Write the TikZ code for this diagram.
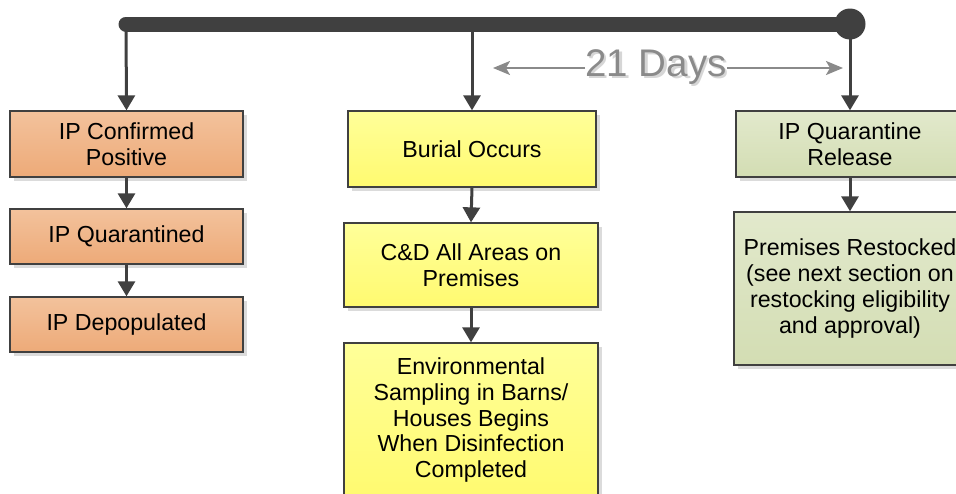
\documentclass[tikz,border=0pt]{standalone}
\usepackage{fontspec}
\setmainfont{Liberation Sans}
\usetikzlibrary{arrows.meta,shadows}

\definecolor{darkline}{HTML}{404040}
\definecolor{daysgray}{HTML}{8A8A8A}
\definecolor{daysshade}{HTML}{D6D6D6}
\definecolor{orangetop}{HTML}{F3C29C}
\definecolor{orangebot}{HTML}{EDAA78}
\definecolor{yellowtop}{HTML}{FFFF99}
\definecolor{yellowbot}{HTML}{FFFA70}
\definecolor{greentop}{HTML}{E2E9CC}
\definecolor{greenbot}{HTML}{D3DDB3}

\tikzset{
  stepbox/.style={draw=darkline, line width=1.3pt, align=center, inner sep=0pt,
    font=\fontsize{23.2}{25.7}\selectfont,
    drop shadow={shadow xshift=4pt, shadow yshift=-4pt, fill=black!14, opacity=1}},
  orangebox/.style={stepbox, top color=orangetop, bottom color=orangebot},
  yellowbox/.style={stepbox, top color=yellowtop, bottom color=yellowbot},
  greenbox/.style={stepbox, top color=greentop, bottom color=greenbot},
  flowarrow/.style={draw=darkline, line width=3pt,
    -{Triangle[length=15pt,width=17pt]}},
  daysarrow/.style={draw=daysgray, line width=2.2pt},
  daystip/.style={-{Stealth[length=17pt,width=14pt,inset=4pt]}},
  daystext/.style={font=\fontsize{38.5}{42}\selectfont, inner sep=0pt, text=daysgray}
}

% gray label with a soft offset copy behind it
\newcommand{\shadedlabel}[1]{%
  \makebox[0pt][l]{\hspace{2.5pt}\raisebox{-2.5pt}{\textcolor{daysshade}{#1}}}#1}

\begin{document}
\begin{tikzpicture}[x=1pt,y=-1pt]
  \useasboundingbox (0,0) rectangle (956,493);
  \clip (0,0) rectangle (956,493);

  % timeline bar with its end dot
  \coordinate (barL) at (126,24);
  \coordinate (barM) at (472,24);
  \node[circle, fill=darkline, minimum size=31pt, inner sep=0pt] (dot) at (850,24) {};
  \draw[darkline, line width=15pt, line cap=round] (barL) -- (dot.center);

  % left column
  \node[orangebox, minimum width=233pt, minimum height=66pt] (conf) at (126.5,144) {IP Confirmed\\Positive};
  \node[orangebox, minimum width=233pt, minimum height=55pt] (quar) at (126.5,236.5) {IP Quarantined};
  \node[orangebox, minimum width=233pt, minimum height=55pt] (depop) at (126.5,324.5) {IP Depopulated};

  % middle column
  \node[yellowbox, minimum width=248pt, minimum height=76pt] (burial) at (472,149) {Burial Occurs};
  \node[yellowbox, minimum width=254pt, minimum height=84pt] (cd) at (471,265) {C\&D All Areas on\\Premises};
  \node[yellowbox, minimum width=254pt, minimum height=154pt] (env) at (471,420)
    {Environmental\\Sampling in Barns/\\Houses Begins\\When Disinfection\\Completed};

  % right column
  \node[greenbox, minimum width=228pt, minimum height=66pt] (rel) at (850,144) {IP Quarantine\\Release};
  \node[greenbox, minimum width=232pt, minimum height=153pt] (rest) at (850,288.5)
    {Premises Restocked\\(see next section on\\restocking eligibility\\and approval)};

  % arrows from the timeline
  \draw[flowarrow] (barL) -- (conf.north);
  \draw[flowarrow] (barM) -- (burial.north);
  \draw[flowarrow] (dot.center) -- (rel.north);

  % arrows within each column
  \draw[flowarrow] (conf.south) -- (quar.north);
  \draw[flowarrow] (quar.south) -- (depop.north);
  \draw[flowarrow] (burial.south) -- (cd.north);
  \draw[flowarrow] (cd.south) -- (env.north);
  \draw[flowarrow] (rel.south) -- (rest.north);

  % 21 day interval
  \coordinate (daysL) at (493,68);
  \coordinate (daysR) at (843,68);
  \node[daystext] (days) at (656,68) {\shadedlabel{21 Days}};
  \draw[daysarrow, daystip] (days.west) -- (daysL);
  \draw[daysarrow, daystip] (days.east) -- (daysR);
\end{tikzpicture}
\end{document}
